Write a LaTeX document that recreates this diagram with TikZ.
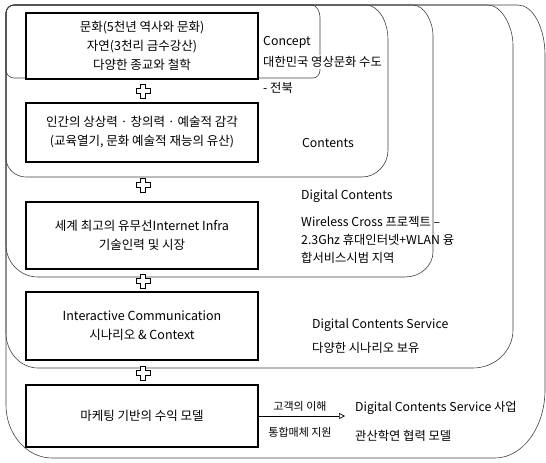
\documentclass[tikz,border=0pt]{standalone}
\usepackage{fontspec}
\setmainfont{Noto Sans CJK KR}
\usetikzlibrary{arrows.meta}
\newcommand\boxfont{\fontsize{12.5}{19}\selectfont}
\newcommand\rfont{\fontsize{12.3}{14}\selectfont}
\newcommand\lfont{\fontsize{11}{13}\selectfont}
\tikzset{
  x=1pt, y=-1pt,
  layer/.style={draw=black!75, line width=0.6pt},
  box/.style={draw=black, line width=1.3pt, fill=white, minimum width=232pt,
              align=center, font=\boxfont, inner sep=0pt},
  rtext/.style={anchor=west, font=\rfont, inner sep=1pt},
  ctext/.style={font=\rfont, inner sep=1pt},
  lbl/.style={font=\lfont, inner sep=1pt},
  plussign/.pic={
    \draw[line width=0.9pt, fill=white]
      (-2.5,-7) -- (2.5,-7) -- (2.5,-2.5) -- (7,-2.5) -- (7,2.5) -- (2.5,2.5)
      -- (2.5,7) -- (-2.5,7) -- (-2.5,2.5) -- (-7,2.5) -- (-7,-2.5) -- (-2.5,-2.5) -- cycle;
  }
}
\begin{document}
\begin{tikzpicture}
\useasboundingbox (0,0) rectangle (546,463);
% nested layers
\draw[layer] (6,13) .. controls (6,8.6) and (9.6,5) .. (14,5) -- (312,5)
  .. controls (316.4,5) and (320,11.6) .. (320,17) -- (320,70)
  .. controls (320,74.4) and (316.8,78) .. (313,78) -- (14,78)
  .. controls (9.6,78) and (6,74.4) .. (6,70) -- cycle;
\draw[layer] (6,13) .. controls (6,8.6) and (9.6,5) .. (14,5) -- (366,5)
  .. controls (378.1,5) and (388,20.75) .. (388,40) -- (388,150)
  .. controls (388,164.85) and (376.3,177) .. (362,177) -- (26,177)
  .. controls (15,177) and (6,168.45) .. (6,158) -- cycle;
\draw[layer] (6,13) .. controls (6,8.6) and (9.6,5) .. (14,5) -- (413,5)
  .. controls (424,5) and (433,21.5) .. (433,35) -- (433,252)
  .. controls (433,265.75) and (420.4,277) .. (405,277) -- (38,277)
  .. controls (20.4,277) and (6,262.6) .. (6,245) -- cycle;
\draw[layer] (6,13) .. controls (6,8.6) and (9.6,5) .. (14,5) -- (488,5)
  .. controls (501.75,5) and (513,27) .. (513,45) -- (513,330)
  .. controls (513,350.9) and (495,368) .. (473,368) -- (38,368)
  .. controls (20.4,368) and (6,352.25) .. (6,333) -- cycle;
\draw[layer] (6,13) .. controls (6,8.6) and (9.6,5) .. (14,5) -- (518,5)
  .. controls (532.85,5) and (545,27.5) .. (545,55) -- (545,390)
  .. controls (545,427.4) and (522.5,458) .. (495,458) -- (52,458)
  .. controls (26.7,458) and (6,434.15) .. (6,405) -- cycle;

% boxes
\node[box, minimum height=66pt] (b1) at (142,46) {문화(5천년 역사와 문화)\\자연(3천리 금수강산)\\다양한 종교와 철학};
\node[box, minimum height=59pt] (b2) at (142,132.5) {인간의 상상력 · 창의력 · 예술적 감각\\(교육열기, 문화 예술적 재능의 유산)};
\node[box, minimum height=67pt] (b3) at (142,235.5) {세계 최고의 유무선Internet Infra\\기술인력 및 시장};
\node[box, minimum height=68pt] (b4) at (142,326) {Interactive Communication\\시나리오 \& Context};
\node[box, minimum height=62pt] (b5) at (142,416) {마케팅 기반의 수익 모델};

% plus signs
\pic at (143,91) {plussign};
\pic at (143,185) {plussign};
\pic at (143,281) {plussign};
\pic at (143,373) {plussign};

% right texts
\node[rtext] (t1) at (262,42) {Concept};
\node[rtext, fill=white] (t2) at (262,62) {대한민국 영상문화 수도};
\node[rtext] (t3) at (262,88) {- 전북};
\node[ctext] (t4) at (328,143) {Contents};
\node[rtext] (t5) at (300,196) {Digital Contents};
\node[rtext] (t6) at (300,222) {Wireless Cross 프로젝트 –};
\node[rtext] (t7) at (300,240) {2.3Ghz 휴대인터넷+WLAN 융};
\node[rtext] (t8) at (300,258) {합서비스시범 지역};
\node[rtext] (t9) at (311,325) {Digital Contents Service};
\node[rtext] (t10) at (311,348) {다양한 시나리오 보유};
\node[rtext] (t11) at (354,408) {Digital Contents Service 사업};
\node[rtext] (t12) at (354,436) {관산학연 협력 모델};

% arrow
\coordinate (aend) at (345,416);
\draw[line width=0.7pt, -{Triangle[open, length=6pt, width=6pt]}] (b5.east) -- (aend);
\node[lbl] (l1) at (300,406) {고객의 이해};
\node[lbl] (l2) at (300,432) {통합매체 지원};
\end{tikzpicture}
\end{document}
